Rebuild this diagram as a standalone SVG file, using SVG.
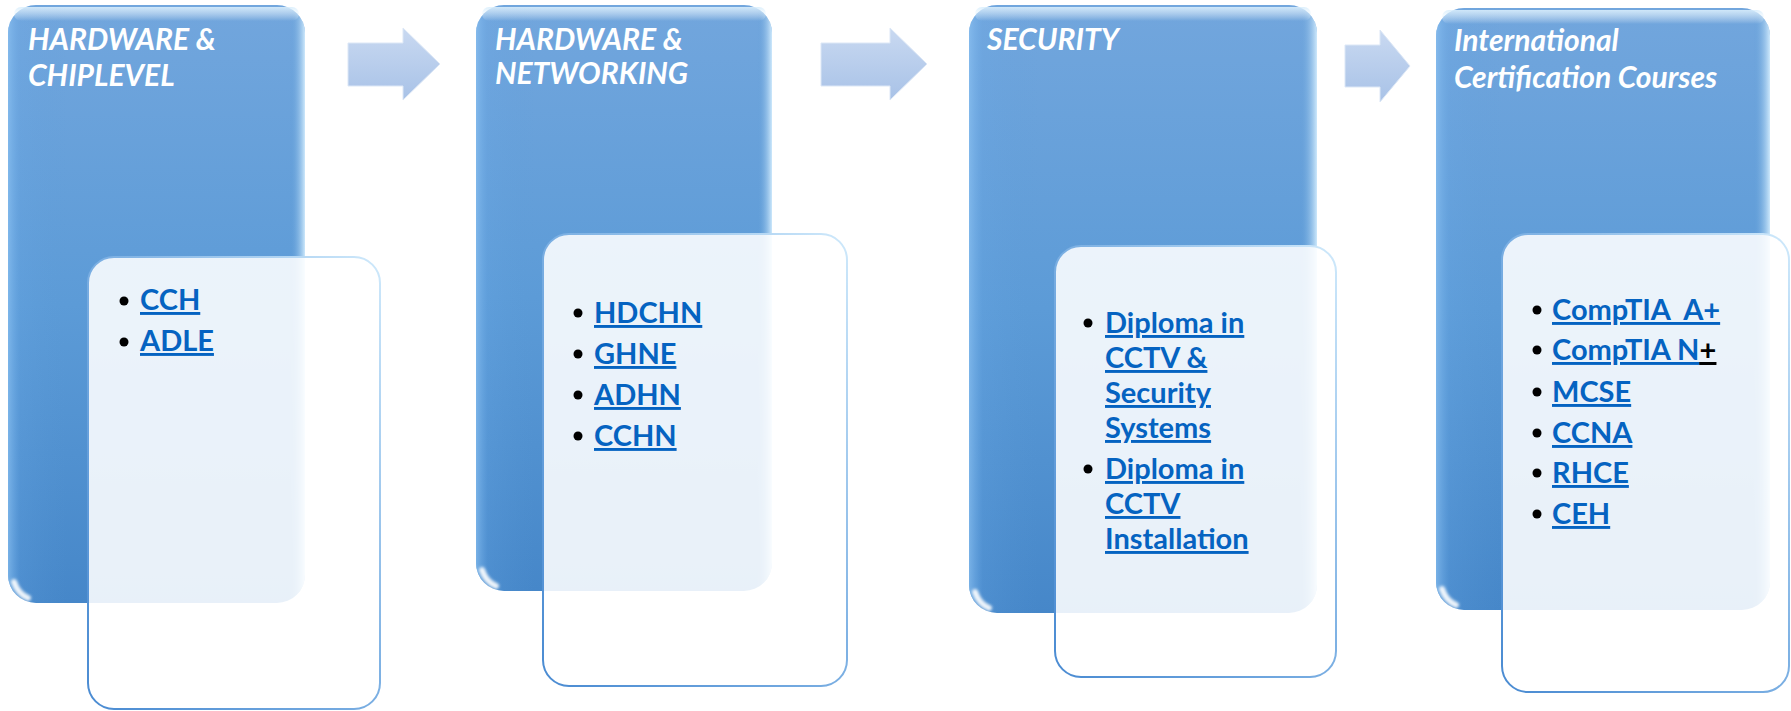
<svg xmlns="http://www.w3.org/2000/svg" width="1791" height="711" viewBox="0 0 1791 711">
<defs>
<linearGradient id="pg" x1="0" y1="0" x2="0" y2="1">
<stop offset="0" stop-color="#72a6dd"/>
<stop offset="0.5" stop-color="#5c9bd7"/>
<stop offset="1" stop-color="#4687c9"/>
</linearGradient>
<linearGradient id="ps" x1="0" y1="0" x2="1" y2="0">
<stop offset="0" stop-color="#8cc2f2" stop-opacity="0.7"/>
<stop offset="0.04" stop-color="#6aaae8" stop-opacity="0.2"/>
<stop offset="0.2" stop-color="#5a9ad6" stop-opacity="0"/>
<stop offset="0.95" stop-color="#5a9ad6" stop-opacity="0"/>
<stop offset="1" stop-color="#d8f0ff" stop-opacity="0.9"/>
</linearGradient>
<linearGradient id="pt" x1="0" y1="0" x2="0" y2="1">
<stop offset="0" stop-color="#d9eefc" stop-opacity="0.9"/>
<stop offset="1" stop-color="#ffffff" stop-opacity="0"/>
</linearGradient>
<linearGradient id="bs" x1="0" y1="1" x2="1" y2="0">
<stop offset="0" stop-color="#4a8bd2"/>
<stop offset="0.55" stop-color="#7fb2e4"/>
<stop offset="1" stop-color="#cfe9fb"/>
</linearGradient>
<linearGradient id="ag" x1="0" y1="0" x2="0" y2="1">
<stop offset="0" stop-color="#c9d9f1"/>
<stop offset="1" stop-color="#a8c2e7"/>
</linearGradient>
<filter id="blur" x="-50%" y="-50%" width="200%" height="200%"><feGaussianBlur stdDeviation="1.5"/></filter>
</defs>
<style>
.panel{fill:url(#pg)}
.side{fill:url(#ps)}
.top{fill:url(#pt)}
.box{fill:#ffffff;fill-opacity:0.88;stroke:url(#bs);stroke-width:2}
.title{font-family:Lato,"Liberation Sans",sans-serif;font-weight:bold;font-style:italic;font-size:30px;fill:#ffffff}
.link{font-family:Lato,"Liberation Sans",sans-serif;font-weight:bold;font-size:29px;fill:#0563c1;text-decoration:underline;white-space:pre}
.plain{fill:#000000;text-decoration:underline}
.dot{fill:#000000}
.arrow{fill:url(#ag);stroke:#dce7f6;stroke-width:1}
.glare{fill:none;stroke:#ffffff;stroke-width:6;stroke-linecap:round;opacity:0.9;filter:url(#blur)}
</style>

<g id="panel1">
<rect class="panel" x="8" y="5" width="297" height="598" rx="28"/>
<rect class="side" x="8" y="5" width="297" height="598" rx="28"/>
<rect class="top" x="14" y="7" width="285" height="14" rx="7"/>
<path class="glare" d="M14 582 Q18 594 28 598"/>
<text class="title" x="28" y="50">HARDWARE &amp;</text>
<text class="title" x="28" y="86">CHIPLEVEL</text>
</g>

<g id="panel2">
<rect class="panel" x="476" y="5" width="296" height="586" rx="28"/>
<rect class="side" x="476" y="5" width="296" height="586" rx="28"/>
<rect class="top" x="482" y="7" width="284" height="14" rx="7"/>
<path class="glare" d="M482 570 Q486 582 496 586"/>
<text class="title" x="495" y="50">HARDWARE &amp;</text>
<text class="title" x="495" y="84">NETWORKING</text>
</g>

<g id="panel3">
<rect class="panel" x="969" y="5" width="348" height="608" rx="28"/>
<rect class="side" x="969" y="5" width="348" height="608" rx="28"/>
<rect class="top" x="975" y="7" width="336" height="14" rx="7"/>
<path class="glare" d="M975 592 Q979 604 989 608"/>
<text class="title" x="987" y="50">SECURITY</text>
</g>

<g id="panel4">
<rect class="panel" x="1436" y="8" width="334" height="602" rx="28"/>
<rect class="side" x="1436" y="8" width="334" height="602" rx="28"/>
<rect class="top" x="1442" y="10" width="322" height="14" rx="7"/>
<path class="glare" d="M1442 589 Q1446 601 1456 605"/>
<text class="title" x="1454" y="51">International</text>
<text class="title" x="1454" y="88">Certification Courses</text>
</g>

<g id="box1">
<rect class="box" x="88" y="257" width="292" height="452" rx="26"/>
<circle class="dot" cx="124" cy="301" r="4.5"/>
<circle class="dot" cx="124" cy="342" r="4.5"/>
<text class="link" x="140" y="310">CCH</text>
<text class="link" x="140" y="351">ADLE</text>
</g>

<g id="box2">
<rect class="box" x="543" y="234" width="304" height="452" rx="26"/>
<circle class="dot" cx="578" cy="313" r="4.5"/>
<circle class="dot" cx="578" cy="354" r="4.5"/>
<circle class="dot" cx="578" cy="395" r="4.5"/>
<circle class="dot" cx="578" cy="436" r="4.5"/>
<text class="link" x="594" y="323">HDCHN</text>
<text class="link" x="594" y="364">GHNE</text>
<text class="link" x="594" y="405">ADHN</text>
<text class="link" x="594" y="446">CCHN</text>
</g>

<g id="box3">
<rect class="box" x="1055" y="246" width="281" height="431" rx="26"/>
<circle class="dot" cx="1088" cy="323" r="4.5"/>
<circle class="dot" cx="1088" cy="469" r="4.5"/>
<text class="link" x="1105" y="333">Diploma in</text>
<text class="link" x="1105" y="368">CCTV &amp;</text>
<text class="link" x="1105" y="403">Security</text>
<text class="link" x="1105" y="438">Systems</text>
<text class="link" x="1105" y="479">Diploma in</text>
<text class="link" x="1105" y="514">CCTV</text>
<text class="link" x="1105" y="549">Installation</text>
</g>

<g id="box4">
<rect class="box" x="1502" y="234" width="287" height="458" rx="26"/>
<circle class="dot" cx="1537" cy="310" r="4.5"/>
<circle class="dot" cx="1537" cy="350" r="4.5"/>
<circle class="dot" cx="1537" cy="392" r="4.5"/>
<circle class="dot" cx="1537" cy="433" r="4.5"/>
<circle class="dot" cx="1537" cy="473" r="4.5"/>
<circle class="dot" cx="1537" cy="514" r="4.5"/>
<text class="link" x="1552" y="320">CompTIA  A+</text>
<text class="link" x="1552" y="360">CompTIA N<tspan class="plain">+</tspan></text>
<text class="link" x="1552" y="402">MCSE</text>
<text class="link" x="1552" y="443">CCNA</text>
<text class="link" x="1552" y="483">RHCE</text>
<text class="link" x="1552" y="524">CEH</text>
</g>

<g id="connectors">
<path class="arrow" d="M348 43 H403 V28 L440 64 L403 100 V86 H348 Z"/>
<path class="arrow" d="M821 43 H890 V28 L927 64 L890 100 V86 H821 Z"/>
<path class="arrow" d="M1345 45 H1380 V30 L1410 66 L1380 102 V87 H1345 Z"/>
</g>
</svg>
